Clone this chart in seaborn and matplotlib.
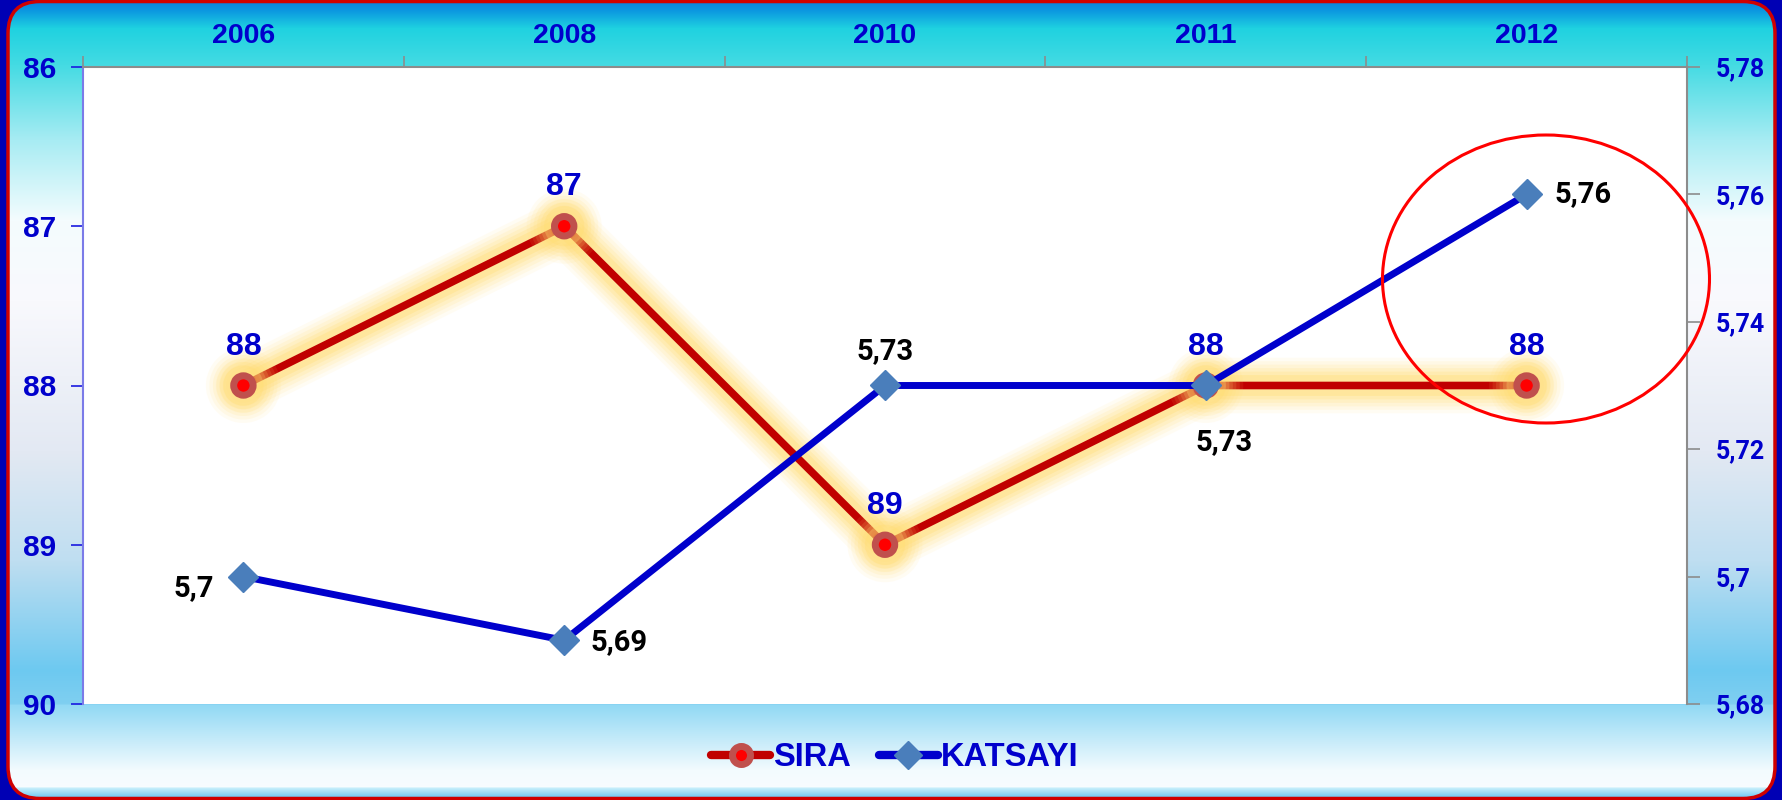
import numpy as np
import matplotlib
matplotlib.use("Agg")
import matplotlib.pyplot as plt
import matplotlib.patheffects as pe
from matplotlib.patches import FancyBboxPatch, Ellipse
from matplotlib.lines import Line2D
from matplotlib.colors import to_rgb
import seaborn as sns

years = ["2006", "2008", "2010", "2011", "2012"]
sira = [88, 87, 89, 88, 88]
katsayi = [5.70, 5.69, 5.73, 5.73, 5.76]
sira_ticks = [86, 87, 88, 89, 90]
katsayi_ticks = [5.68, 5.70, 5.72, 5.74, 5.76, 5.78]


def tr(v):
    # turkish decimal comma
    return f"{v:g}".replace(".", ",")


sns.set_theme(style="white")
plt.rcParams["font.family"] = ["Liberation Sans", "DejaVu Sans"]

BLUE_TXT = "#0000cc"
NUM_FONT = ["Roboto", "DejaVu Sans"]
W, H = 1783, 800
fig = plt.figure(figsize=(W / 100, H / 100), dpi=100, facecolor="#0000b4")

# background panel with vertical gradient
bg = fig.add_axes([0, 0, 1, 1])
bg.set_xlim(0, W)
bg.set_ylim(H, 0)
bg.axis("off")
stops = [(0, "#0a7ddf"), (10, "#0b97e0"), (28, "#1fd2e0"), (65, "#45dbe3"),
         (140, "#a8ecf3"), (220, "#f4fcfe"), (300, "#f9f9fd"), (450, "#e3e9f3"),
         (560, "#bfdef1"), (670, "#6dc9f0"), (703, "#7fcff0"), (705, "#92d9f4"),
         (770, "#f3fbfe"), (786, "#f8fcfe"), (788, "#c3ecfa"), (800, "#55bdf0")]
rows = np.arange(H)
ys = [s[0] for s in stops]
cols = np.array([to_rgb(s[1]) for s in stops])
grad = np.stack([np.interp(rows, ys, cols[:, k]) for k in range(3)], axis=1)[:, None, :]
frame = FancyBboxPatch((8, 1.5), W - 16, H - 3, boxstyle="round,pad=0,rounding_size=32",
                       fc="none", ec="#d00000", lw=2.5, zorder=3)
im = bg.imshow(grad, extent=(0, W, H, 0), aspect="auto", zorder=1)
bg.add_patch(frame)
im.set_clip_path(frame)

# main axes
ax = fig.add_axes([83 / W, 1 - 704 / H, (1687 - 83) / W, (704 - 67) / H])
ax.set_facecolor("white")
pos = np.arange(len(years))

glow = [pe.Stroke(linewidth=w, foreground="#ffdd70", alpha=a)
        for w, a in [(40, 0.08), (35, 0.10), (30, 0.13), (25, 0.16), (20, 0.22), (15, 0.3)]]
glow.append(pe.Normal())
sns.lineplot(x=pos, y=sira, ax=ax, color="#c00000", lw=5.5, marker="o", ms=14,
             mfc="#ff0000", mec="#c0504d", mew=5, solid_capstyle="round",
             path_effects=glow, zorder=3)
ax.set_ylim(90, 86)
ax.set_yticks(sira_ticks)
ax.set_yticklabels([str(t) for t in sira_ticks])
ax.set_xlim(-0.5, len(years) - 0.5)
ax.set_xlabel("")
ax.set_ylabel("")

for x, v in zip(pos, sira):
    ax.annotate(str(v), (x, v), xytext=(0, 28), textcoords="offset points",
                ha="center", va="center", fontsize=23, fontweight="bold",
                color=BLUE_TXT, zorder=6)

ax.xaxis.tick_top()
ax.set_xticks(np.arange(-0.5, len(years)), labels=[""] * (len(years) + 1))
ax.set_xticks(pos, labels=years, minor=True)
ax.tick_params(axis="x", which="major", length=8, width=1.2, color="#8c8c8c",
               top=True, bottom=False, labeltop=False, labelbottom=False)
ax.tick_params(axis="x", which="minor", length=0, pad=13, top=True, bottom=False,
               labeltop=True, labelbottom=False, labelsize=20.5, labelcolor=BLUE_TXT)
ax.tick_params(axis="y", which="major", left=True, length=9, width=1.2,
               color="#1a1ae0", pad=10, labelsize=21.5, labelcolor=BLUE_TXT)
for lab in ax.get_xticklabels(minor=True) + ax.get_yticklabels():
    lab.set_fontweight("bold")

for side in ["bottom", "right"]:
    ax.spines[side].set_visible(False)
ax.spines["left"].set_color("#7b7be8")
ax.spines["left"].set_linewidth(1.5)
ax.spines["top"].set_color("#8c8c8c")
ax.spines["top"].set_linewidth(1.5)

# second axis
ax2 = ax.twinx()
sns.lineplot(x=pos, y=katsayi, ax=ax2, color="#0000cc", lw=5, marker="D", ms=15,
             mfc="#4a7ebb", mec="#4a7ebb", mew=1, zorder=3)
ax2.set_ylim(katsayi_ticks[0], katsayi_ticks[-1])
ax2.set_yticks(katsayi_ticks)
ax2.set_yticklabels([tr(t) for t in katsayi_ticks])
ax2.set_xlim(-0.5, len(years) - 0.5)
ax2.set_xlabel("")
ax2.set_ylabel("")
ax2.tick_params(axis="y", right=True, length=9, width=1.2, color="#8c8c8c", pad=12,
                labelsize=18, labelcolor=BLUE_TXT)
for lab in ax2.get_yticklabels():
    lab.set_fontfamily(NUM_FONT)
    lab.set_fontweight("bold")
for side in ["left", "top", "bottom"]:
    ax2.spines[side].set_visible(False)
ax2.spines["right"].set_color("#8c8c8c")
ax2.spines["right"].set_linewidth(1.5)

label_place = [((-21.5, -8), "right"), ((19, -1), "left"), ((0, 25), "center"),
               ((13, -41), "center"), ((20, 0), "left")]
for x, v, (off, ha) in zip(pos, katsayi, label_place):
    ax2.annotate(tr(v), (x, v), xytext=off, textcoords="offset points", ha=ha,
                 va="center", fontsize=21, fontweight="bold", color="black",
                 family=NUM_FONT, zorder=6)

# highlight ring around the last year
fig.add_artist(Ellipse((1546 / W, 1 - 279 / H), 327 / W, 288 / H, transform=fig.transFigure,
                       fill=False, ec="#ff0000", lw=2.2, zorder=10))

# legend
h1 = Line2D([], [], color="#c00000", lw=6, marker="o", ms=13, mfc="#ff0000",
            mec="#c0504d", mew=5, solid_capstyle="round")
h2 = Line2D([], [], color="#0000cc", lw=6, marker="D", ms=14, mfc="#4a7ebb",
            mec="#4a7ebb", solid_capstyle="round")
leg = fig.legend([h1, h2], ["SIRA", "KATSAYI"], loc="center",
                 bbox_to_anchor=(895 / W, 1 - 758 / H), ncol=2, frameon=False,
                 handlelength=1.8, handletextpad=0.1, columnspacing=0.85,
                 prop={"family": ["Liberation Sans"], "weight": "bold", "size": 23.5})
for t in leg.get_texts():
    t.set_color(BLUE_TXT)

fig.savefig("out.png", dpi=100, facecolor=fig.get_facecolor())
